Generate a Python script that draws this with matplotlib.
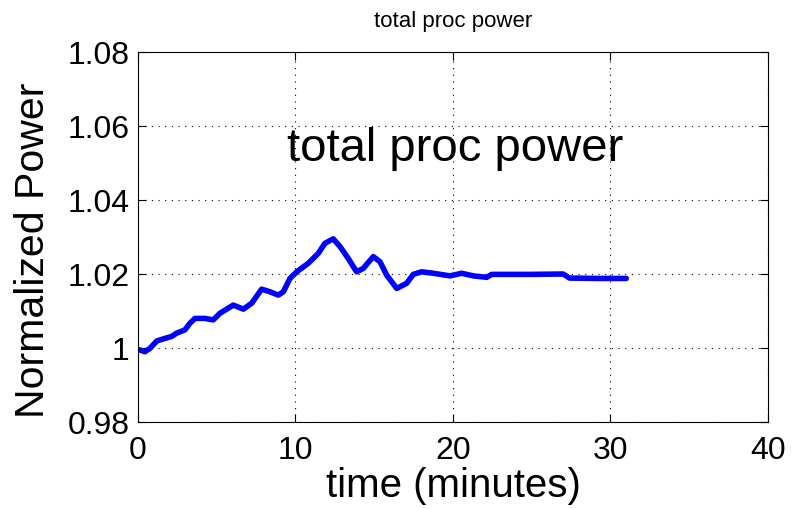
import numpy as np
import matplotlib.pyplot as plt

# curve (minutes, normalized power)
time_min = [0.02, 0.44, 0.76, 1.19, 1.71, 2.13, 2.45, 2.98, 3.30, 3.62, 4.25, 4.78,
            5.21, 6.05, 6.69, 7.22, 7.85, 8.38, 8.91, 9.23, 9.65, 10.08, 10.81, 11.45,
            11.87, 12.40, 12.83, 13.35, 13.88, 14.30, 14.94, 15.37, 15.79, 16.43,
            17.06, 17.48, 18.01, 18.75, 19.81, 20.55, 21.29, 22.14, 22.46, 24.89,
            27.0, 27.4, 29.3, 31.0]
power = [0.9996, 0.9990, 0.9999, 1.0019, 1.0026, 1.0031, 1.0040, 1.0049, 1.0067,
         1.0080, 1.0080, 1.0076, 1.0094, 1.0116, 1.0105, 1.0121, 1.0159, 1.0152,
         1.0143, 1.0152, 1.0188, 1.0206, 1.0229, 1.0256, 1.0283, 1.0295, 1.0274,
         1.0242, 1.0206, 1.0215, 1.0247, 1.0233, 1.0197, 1.0161, 1.0175, 1.0199,
         1.0206, 1.0202, 1.0195, 1.0202, 1.0195, 1.0191, 1.0199, 1.0199, 1.0200,
         1.0189, 1.0188, 1.0188]

xticks = [0, 10, 20, 30, 40]
yticks = [0.98, 1.0, 1.02, 1.04, 1.06, 1.08]
ytick_labels = ["0.98", "1", "1.02", "1.04", "1.06", "1.08"]

plt.rcParams["font.family"] = ["Liberation Sans", "DejaVu Sans"]

fig = plt.figure(figsize=(7.92, 5.09), dpi=100)
ax = fig.add_axes([0.1742, 0.1709, 0.7955, 0.7269])

ax.plot(time_min, power, color="#0000ff", lw=4, solid_capstyle="round",
        solid_joinstyle="round")

ax.set_xlim(0, 40)
ax.set_ylim(0.98, 1.08)
ax.set_xticks(xticks)
ax.set_yticks(yticks)
ax.set_yticklabels(ytick_labels)
ax.tick_params(direction="in", labelsize=23, top=True, right=True, length=6)
ax.tick_params(axis="x", pad=10)
ax.tick_params(axis="y", pad=6)
ax.grid(True, color="black", linestyle=(0, (1, 5)), linewidth=0.8)

ax.set_xlabel("time (minutes)", fontsize=29, labelpad=1)
ax.set_ylabel("Normalized Power", fontsize=29.5)
ax.yaxis.set_label_coords(-0.137, 0.465)
ax.set_title("total proc power", fontsize=16, pad=18)
ax.text(9.46, 1.0506, "total proc power", fontsize=34, ha="left", va="baseline")

fig.savefig("out.png", dpi=100)
